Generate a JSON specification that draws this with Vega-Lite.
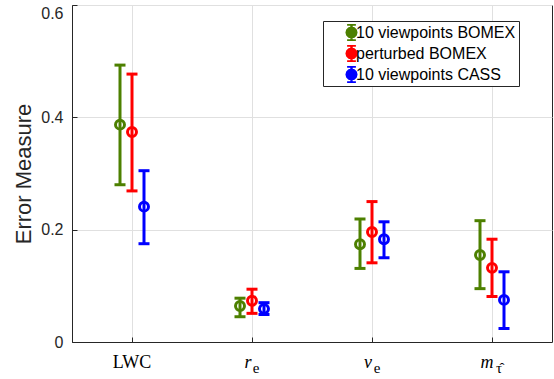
{
  "$schema": "https://vega.github.io/schema/vega-lite/v6.json",
  "width": 480,
  "height": 337,
  "autosize": "none",
  "padding": {"left": 72, "top": 5, "right": 2, "bottom": 37},
  "config": {
    "view": {"stroke": "#262626", "strokeWidth": 1},
    "font": "Liberation Sans"
  },
  "data": {
    "values": [
      {"param": "LWC", "series": "10 viewpoints BOMEX", "mean": 0.387, "lo": 0.280, "hi": 0.493},
      {"param": "LWC", "series": "perturbed BOMEX", "mean": 0.374, "lo": 0.269, "hi": 0.477},
      {"param": "LWC", "series": "10 viewpoints CASS", "mean": 0.241, "lo": 0.175, "hi": 0.305},
      {"param": "r_e", "series": "10 viewpoints BOMEX", "mean": 0.064, "lo": 0.045, "hi": 0.078},
      {"param": "r_e", "series": "perturbed BOMEX", "mean": 0.0735, "lo": 0.051, "hi": 0.094},
      {"param": "r_e", "series": "10 viewpoints CASS", "mean": 0.059, "lo": 0.049, "hi": 0.070},
      {"param": "v_e", "series": "10 viewpoints BOMEX", "mean": 0.174, "lo": 0.131, "hi": 0.219},
      {"param": "v_e", "series": "perturbed BOMEX", "mean": 0.196, "lo": 0.141, "hi": 0.250},
      {"param": "v_e", "series": "10 viewpoints CASS", "mean": 0.183, "lo": 0.150, "hi": 0.214},
      {"param": "m_tau", "series": "10 viewpoints BOMEX", "mean": 0.155, "lo": 0.095, "hi": 0.216},
      {"param": "m_tau", "series": "perturbed BOMEX", "mean": 0.132, "lo": 0.081, "hi": 0.183},
      {"param": "m_tau", "series": "10 viewpoints CASS", "mean": 0.075, "lo": 0.024, "hi": 0.125}
    ]
  },
  "layer": [
    {
      "mark": {"type": "rule", "strokeWidth": 3},
      "encoding": {
        "x": {
          "field": "param", "type": "nominal", "sort": ["LWC", "r_e", "v_e", "m_tau"],
          "scale": {"type": "band", "paddingInner": 0, "paddingOuter": 0},
          "axis": {
            "orient": "bottom", "title": null, "labelAngle": 0, "bandPosition": 0.5,
            "labelExpr": "datum.value == 'LWC' ? 'LWC' : datum.value == 'r_e' ? 'r' : datum.value == 'v_e' ? 'v' : 'm'",
            "labelFont": "Liberation Serif", "labelFontSize": 18, "labelColor": "#000000",
            "labelFontStyle": {"condition": {"test": "datum.value != 'LWC'", "value": "italic"}, "value": "normal"},
            "labelOffset": {"condition": [
              {"test": "datum.value == 'r_e'", "value": -4},
              {"test": "datum.value == 'v_e'", "value": -4},
              {"test": "datum.value == 'm_tau'", "value": -5}
            ], "value": 0},
            "labelPadding": 16, "tickSize": -5, "tickColor": "#262626", "domainColor": "#262626",
            "grid": true, "gridColor": "#e0e0e0"
          }
        },
        "xOffset": {
          "field": "series", "type": "nominal",
          "sort": ["10 viewpoints BOMEX", "perturbed BOMEX", "10 viewpoints CASS"],
          "scale": {"type": "point", "range": [48, 72], "padding": 0}
        },
        "y": {
          "field": "lo", "type": "quantitative",
          "scale": {"domain": [0, 0.6], "nice": false},
          "axis": {
            "title": "Error Measure", "titleFontSize": 22, "titleFontWeight": "normal", "titleColor": "#262626",
            "titlePadding": 5,
            "values": [0, 0.2, 0.4, 0.6],
            "labelExpr": "datum.value == 0 ? '0' : format(datum.value, '.1f')",
            "labelBaseline": {"condition": {"test": "datum.value > 0.55", "value": "top"}, "value": "middle"},
            "labelFontSize": 16, "labelColor": "#262626", "labelPadding": 14,
            "tickSize": -5, "tickColor": "#262626", "domainColor": "#262626",
            "grid": true, "gridColor": "#e0e0e0"
          }
        },
        "y2": {"field": "hi"},
        "color": {
          "field": "series", "type": "nominal",
          "scale": {"domain": ["10 viewpoints BOMEX", "perturbed BOMEX", "10 viewpoints CASS"], "range": ["#4d8000", "#ff0000", "#0000ff"]}
        }
      }
    },
    {
      "mark": {"type": "tick", "thickness": 3, "size": 11, "opacity": 1},
      "encoding": {
        "x": {"field": "param", "type": "nominal", "sort": ["LWC", "r_e", "v_e", "m_tau"], "axis": null},
        "xOffset": {"field": "series", "type": "nominal", "sort": ["10 viewpoints BOMEX", "perturbed BOMEX", "10 viewpoints CASS"]},
        "y": {"field": "lo", "type": "quantitative"},
        "color": {"field": "series", "type": "nominal"}
      }
    },
    {
      "mark": {"type": "tick", "thickness": 3, "size": 11, "opacity": 1},
      "encoding": {
        "x": {"field": "param", "type": "nominal", "sort": ["LWC", "r_e", "v_e", "m_tau"], "axis": null},
        "xOffset": {"field": "series", "type": "nominal", "sort": ["10 viewpoints BOMEX", "perturbed BOMEX", "10 viewpoints CASS"]},
        "y": {"field": "hi", "type": "quantitative"},
        "color": {"field": "series", "type": "nominal"}
      }
    },
    {
      "mark": {"type": "point", "shape": "circle", "filled": false, "strokeWidth": 3, "size": 80, "opacity": 1},
      "encoding": {
        "x": {"field": "param", "type": "nominal", "sort": ["LWC", "r_e", "v_e", "m_tau"], "axis": null},
        "xOffset": {"field": "series", "type": "nominal", "sort": ["10 viewpoints BOMEX", "perturbed BOMEX", "10 viewpoints CASS"]},
        "y": {"field": "mean", "type": "quantitative"},
        "color": {
          "field": "series", "type": "nominal",
          "legend": {
            "title": null, "orient": "none", "legendX": 251, "legendY": 16,
            "direction": "vertical",
            "strokeColor": "#262626", "fillColor": "#ffffff", "padding": 3,
            "symbolType": "M-0.55,-1H0.55M0,-1V1M-0.55,1H0.55M0.6,0L0.52,0.3L0.3,0.52L0,0.6L-0.3,0.52L-0.52,0.3L-0.6,0L-0.52,-0.3L-0.3,-0.52L0,-0.6L0.3,-0.52L0.52,-0.3Z",
            "symbolSize": 256, "symbolStrokeWidth": 2.5, "symbolFillColor": "transparent",
            "symbolOffset": 16, "clipHeight": 17,
            "labelFont": "Liberation Sans", "labelFontSize": 16, "labelColor": "#000000",
            "labelOffset": -5, "rowPadding": 4,
            "encode": {"symbols": {"update": {"fill": {"value": "transparent"}, "strokeWidth": {"value": 2.5}}}}
          }
        }
      }
    },
    {
      "mark": {"type": "point", "opacity": 0},
      "encoding": {
        "x": {
          "field": "param", "type": "nominal", "sort": ["LWC", "r_e", "v_e", "m_tau"],
          "axis": {
            "orient": "bottom", "title": null, "labelAngle": 0, "bandPosition": 0.5,
            "domain": false, "ticks": false, "grid": false,
            "labelExpr": "datum.value == 'LWC' ? '' : datum.value == 'm_tau' ? 'τ̂' : 'e'",
            "labelFont": "Liberation Serif", "labelFontSize": 15, "labelColor": "#000000",
            "labelOffset": {"condition": [
              {"test": "datum.value == 'r_e'", "value": 4},
              {"test": "datum.value == 'v_e'", "value": 5},
              {"test": "datum.value == 'm_tau'", "value": 7}
            ], "value": 0},
            "labelPadding": 18
          }
        },
        "y": {"field": "mean", "type": "quantitative"}
      }
    }
  ],
  "resolve": {"axis": {"x": "independent"}}
}
